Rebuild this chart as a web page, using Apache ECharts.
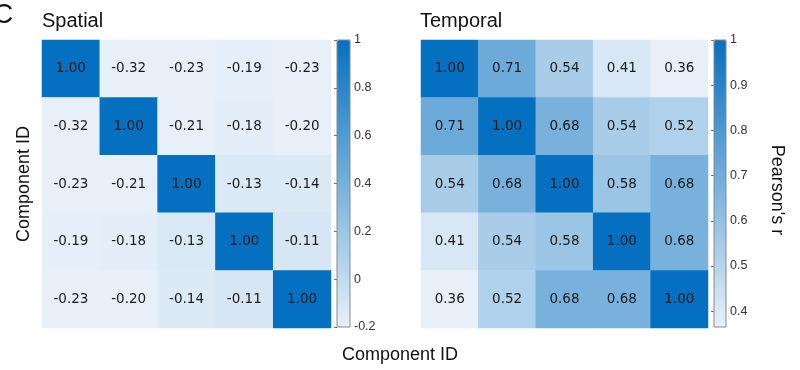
<!DOCTYPE html>
<html><head><meta charset="utf-8">
<script src="https://cdn.jsdelivr.net/npm/echarts@6/dist/echarts.min.js"></script>
<style>html,body{margin:0;padding:0;background:#fff}#c{width:800px;height:370px}</style>
</head><body><div id="c"></div>
<script>
const components = ['1','2','3','4','5'];
const spatialRows = [
  [1.00, -0.32, -0.23, -0.19, -0.23],
  [-0.32, 1.00, -0.21, -0.18, -0.20],
  [-0.23, -0.21, 1.00, -0.13, -0.14],
  [-0.19, -0.18, -0.13, 1.00, -0.11],
  [-0.23, -0.20, -0.14, -0.11, 1.00]
];
const temporalRows = [
  [1.00, 0.71, 0.54, 0.41, 0.36],
  [0.71, 1.00, 0.68, 0.54, 0.52],
  [0.54, 0.68, 1.00, 0.58, 0.68],
  [0.41, 0.54, 0.58, 1.00, 0.68],
  [0.36, 0.52, 0.68, 0.68, 1.00]
];
const spatialRange = [-0.2, 1];
const temporalRange = [0.365, 1];
const spatialTickValues = [-0.2, 0, 0.2, 0.4, 0.6, 0.8, 1];
const temporalTickValues = [0.4, 0.5, 0.6, 0.7, 0.8, 0.9, 1];

function toCells(rows){
  const out=[];
  rows.forEach((r,i)=>r.forEach((v,j)=>out.push([j,i,v])));
  return out;
}
const colors = ['#e7f0f9', '#0570bf'];
const font = 'Liberation Sans, Arial, sans-serif';
const chart = echarts.init(document.getElementById('c'), null, {renderer:'canvas'});
const hmLabel = {show:true, fontFamily:'DejaVu Sans, Verdana, sans-serif', fontSize:13.5, color:'#1a1a1a',
  formatter:p=>p.value[2].toFixed(2)};
const catAxis = (gi, inv)=>({type:'category', gridIndex:gi, data:components, inverse:inv,
  axisLine:{show:false}, axisTick:{show:false}, axisLabel:{show:false}, splitLine:{show:false}});
const cbAxisX = gi=>({type:'value', gridIndex:gi, show:false, min:0, max:1});
const fmt = v=>{const r=Math.round(v*10)/10; return r===1?'1':(r===0?'0':String(r));};
const cbAxisY = (gi,range,ticks)=>({type:'value', gridIndex:gi, position:'right', min:range[0], max:range[1],
  axisLine:{show:false}, axisTick:{show:true, inside:true, length:3, lineStyle:{color:'#777'}, customValues:ticks},
  splitLine:{show:false},
  axisLabel:{margin:4, fontSize:12.5, color:'#333', fontFamily:font, formatter:fmt, customValues:ticks}});
chart.setOption({
  animation:false,
  grid:[
    {left:42, top:40, width:289, height:288},
    {left:421, top:40, width:287, height:288},
    {left:337, top:40, width:13, height:287, show:true, borderColor:'#888', borderWidth:1, backgroundColor:'transparent', z:5},
    {left:714, top:40, width:12, height:287, show:true, borderColor:'#888', borderWidth:1, backgroundColor:'transparent', z:5}
  ],
  xAxis:[catAxis(0,false), catAxis(1,false), cbAxisX(2), cbAxisX(3)],
  yAxis:[catAxis(0,true), catAxis(1,true),
    cbAxisY(2, spatialRange, spatialTickValues),
    cbAxisY(3, temporalRange, temporalTickValues)
  ],
  visualMap:[
    {type:'continuous', seriesIndex:0, min:spatialRange[0], max:spatialRange[1], inRange:{color:colors},
     left:337, top:40, itemWidth:13, itemHeight:287, padding:0, calculable:false, text:null, hoverLink:false},
    {type:'continuous', seriesIndex:1, min:temporalRange[0], max:temporalRange[1], inRange:{color:colors},
     left:714, top:40, itemWidth:12, itemHeight:287, padding:0, calculable:false, text:null, hoverLink:false}
  ],
  series:[
    {type:'heatmap', xAxisIndex:0, yAxisIndex:0, data:toCells(spatialRows), label:hmLabel, itemStyle:{borderWidth:0}},
    {type:'heatmap', xAxisIndex:1, yAxisIndex:1, data:toCells(temporalRows), label:hmLabel, itemStyle:{borderWidth:0}}
  ],
  graphic:[
    {type:'text', left:-7, top:1, style:{text:'C', fontSize:28, fontFamily:font, fill:'#111'}},
    {type:'text', left:42, top:11, style:{text:'Spatial', fontSize:20, fontFamily:font, fill:'#111'}},
    {type:'text', left:420, top:11, style:{text:'Temporal', fontSize:20, fontFamily:font, fill:'#111'}},
    {type:'text', x:24, y:184, rotation:Math.PI/2, style:{text:'Component ID', fontSize:18, fontFamily:font, fill:'#111', align:'center', verticalAlign:'middle'}},
    {type:'text', x:400, y:355, style:{text:'Component ID', fontSize:18, fontFamily:font, fill:'#111', align:'center', verticalAlign:'middle'}},
    {type:'text', x:777, y:190, rotation:-Math.PI/2, style:{text:"Pearson's r", fontSize:18, fontFamily:font, fill:'#111', align:'center', verticalAlign:'middle'}}
  ]
});
</script></body></html>
